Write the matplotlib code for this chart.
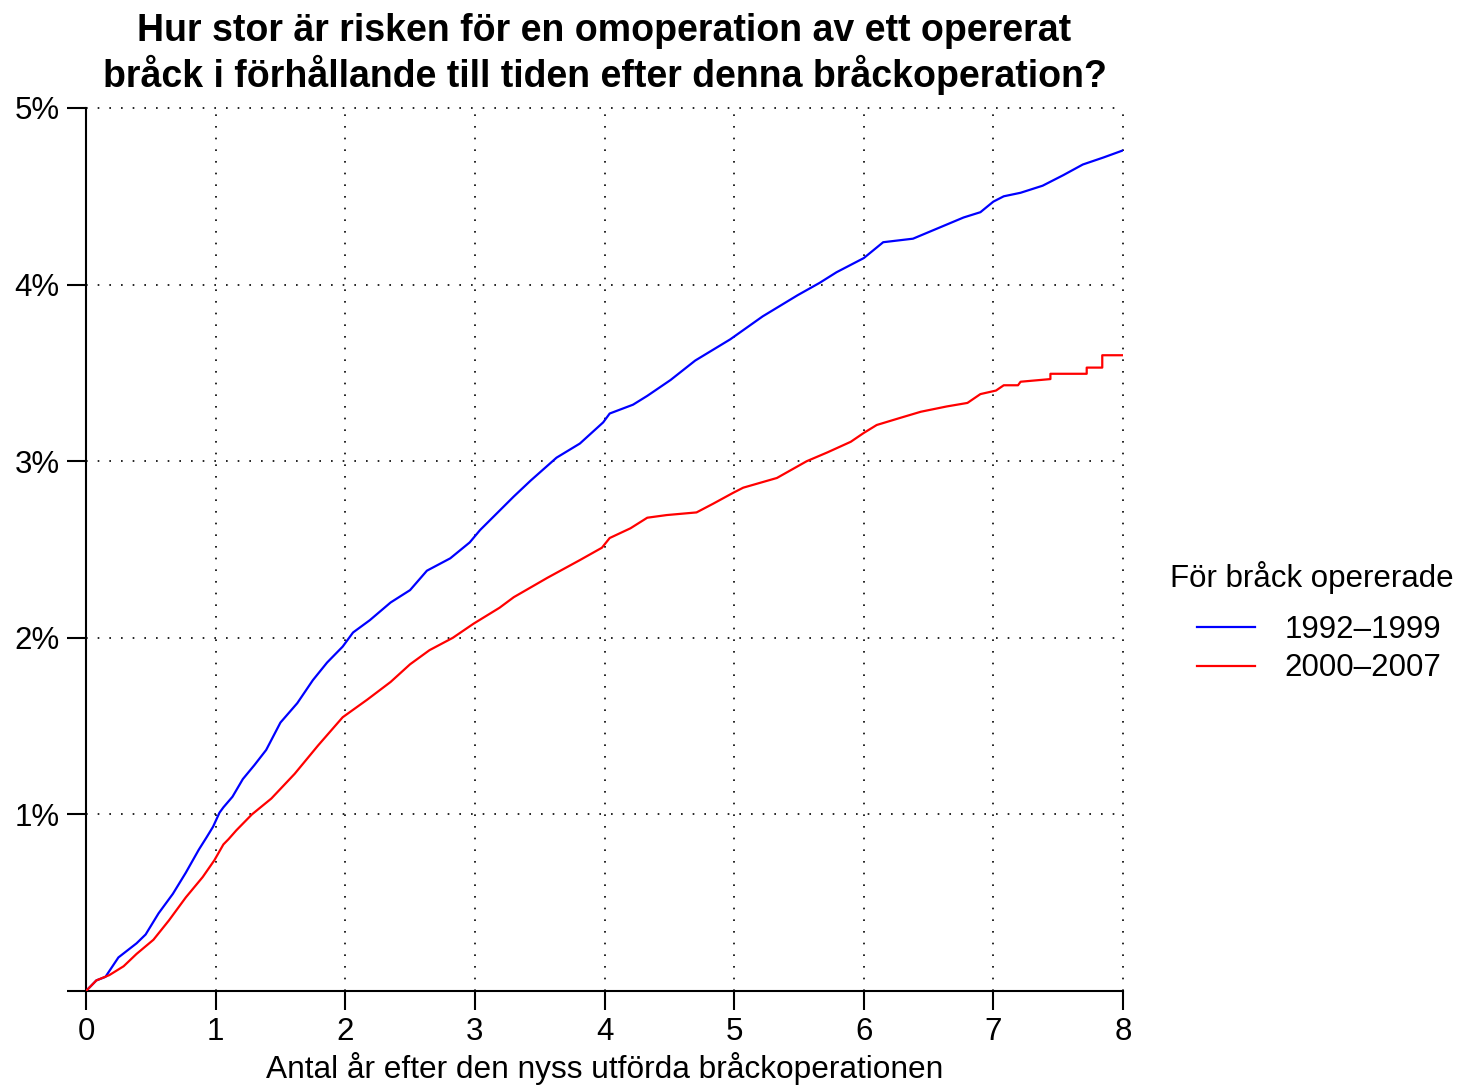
import matplotlib
matplotlib.use("Agg")
import matplotlib.pyplot as plt

plt.rcParams['font.family'] = ['Liberation Sans', 'DejaVu Sans']

# kumulativ risk för omoperation (%)
ar_1992 = [0, 0.08, 0.15, 0.25, 0.39, 0.46, 0.56, 0.67, 0.77, 0.87, 0.93, 0.98, 1.03, 1.06,
           1.13, 1.21, 1.30, 1.39, 1.50, 1.63, 1.75, 1.86, 1.98, 2.06, 2.19, 2.35, 2.50,
           2.63, 2.81, 2.96, 3.04, 3.30, 3.43, 3.63, 3.81, 3.99, 4.04, 4.22, 4.33, 4.51,
           4.70, 4.97, 5.22, 5.49, 5.66, 5.79, 6.00, 6.10, 6.15, 6.38, 6.51, 6.77, 6.90,
           7.00, 7.08, 7.21, 7.38, 7.54, 7.69, 7.85, 8.00]
risk_1992 = [0, 0.06, 0.08, 0.19, 0.27, 0.32, 0.44, 0.55, 0.67, 0.80, 0.87, 0.93, 1.01, 1.04,
             1.10, 1.20, 1.28, 1.365, 1.52, 1.63, 1.76, 1.86, 1.95, 2.03, 2.10, 2.20, 2.27,
             2.38, 2.45, 2.54, 2.61, 2.80, 2.89, 3.02, 3.10, 3.22, 3.27, 3.32, 3.37, 3.46,
             3.57, 3.69, 3.82, 3.94, 4.01, 4.07, 4.15, 4.21, 4.24, 4.26, 4.30, 4.38, 4.41,
             4.47, 4.50, 4.52, 4.56, 4.62, 4.68, 4.72, 4.76]

ar_2000 = [0, 0.08, 0.18, 0.29, 0.39, 0.52, 0.64, 0.77, 0.90, 0.99, 1.06, 1.10, 1.16, 1.28,
           1.43, 1.61, 1.79, 1.98, 2.17, 2.35, 2.50, 2.65, 2.83, 2.99, 3.19, 3.30, 3.56,
           3.81, 3.98, 4.04, 4.20, 4.33, 4.48, 4.71, 4.84, 4.99, 5.07, 5.33, 5.56, 5.72,
           5.90, 6.00, 6.10, 6.28, 6.44, 6.64, 6.80, 6.90, 7.02, 7.08, 7.19, 7.21, 7.44,
           7.44, 7.72, 7.72, 7.84, 7.84, 8.00]
risk_2000 = [0, 0.06, 0.09, 0.14, 0.21, 0.29, 0.40, 0.53, 0.645, 0.74, 0.83, 0.86, 0.91, 1.00,
             1.09, 1.23, 1.39, 1.55, 1.65, 1.75, 1.85, 1.93, 2.00, 2.08, 2.17, 2.23, 2.34,
             2.44, 2.51, 2.565, 2.62, 2.68, 2.695, 2.71, 2.76, 2.82, 2.85, 2.905, 3.00, 3.05,
             3.11, 3.16, 3.205, 3.245, 3.28, 3.31, 3.33, 3.38, 3.40, 3.43, 3.43, 3.45, 3.465,
             3.495, 3.495, 3.53, 3.53, 3.60, 3.60]

x_ticks = [0, 1, 2, 3, 4, 5, 6, 7, 8]
y_ticks = [0, 1, 2, 3, 4, 5]
y_labels = ['', '1%', '2%', '3%', '4%', '5%']
serier = ['1992\u20131999', '2000\u20132007']

fig = plt.figure(figsize=(14.63, 10.86), dpi=100)
ax = fig.add_axes([86/1463, 1-991/1086, (1123-86)/1463, (991-108)/1086])

# prickat rutnät (även på kanterna)
for x in x_ticks[1:]:
    ax.axvline(x, color='black', lw=1.2, ls=(0, (1, 6)), clip_on=False, zorder=1)
for y in y_ticks[1:]:
    ax.axhline(y, color='black', lw=1.2, ls=(0, (1, 6)), clip_on=False, zorder=1)

ax.plot(ar_1992, risk_1992, color='blue', lw=1.6, label=serier[0], zorder=3)
ax.plot(ar_2000, risk_2000, color='red', lw=1.6, label=serier[1], zorder=3)

ax.set_xlim(0, 8)
ax.set_ylim(0, 5)
ax.spines['top'].set_visible(False)
ax.spines['right'].set_visible(False)
ax.spines['left'].set_linewidth(1.5)
ax.spines['bottom'].set_linewidth(1.5)
ax.set_xticks(x_ticks)
ax.set_yticks(y_ticks)
ax.set_yticklabels(y_labels)
ax.tick_params(axis='both', length=14, width=1.5, labelsize=22.5, pad=5)

ax.set_xlabel('Antal år efter den nyss utförda bråckoperationen', fontsize=22.8, labelpad=3)
ax.set_title('Hur stor är risken för en omoperation av ett opererat\n'
             'bråck i förhållande till tiden efter denna bråckoperation?',
             fontsize=27, fontweight='bold', pad=15, linespacing=1.2)

# legend: titel som egen text, poster indragna
fig.text(1170/1463, 1-578/1086, 'För bråck opererade', fontsize=22.5,
         ha='left', va='center')
leg = fig.legend(loc='upper left', bbox_to_anchor=(1197/1463, 1-615/1086),
                 frameon=False, fontsize=22.5, handlelength=1.86,
                 handletextpad=0.93, labelspacing=0.27, borderpad=0,
                 borderaxespad=0)

fig.savefig('out.png', dpi=100)
